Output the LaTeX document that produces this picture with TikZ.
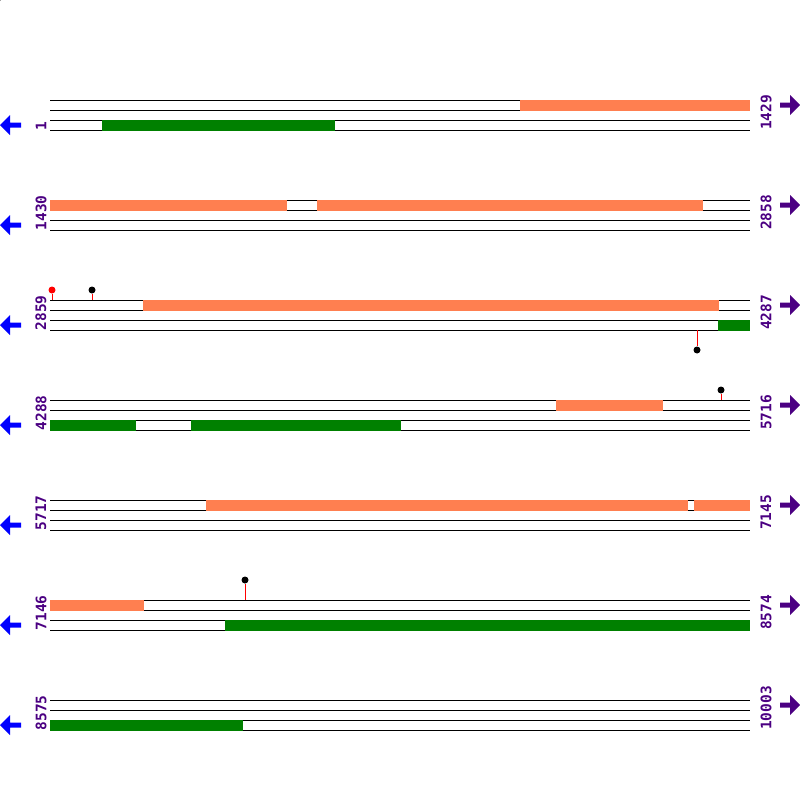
\documentclass[tikz,border=0pt]{standalone}
\usepackage{fontspec}
\setmonofont{DejaVu Sans Mono}
\definecolor{featcol}{HTML}{FF7F50}
\definecolor{genecol}{HTML}{008000}
\definecolor{numcol}{HTML}{4B0082}

\begin{document}
\begin{tikzpicture}[
    x=1pt, y=-1pt,
    strand/.style={black, line width=1pt},
    fwdbar/.style={fill=featcol},
    revbar/.style={fill=genecol},
    poslabel/.style={text=numcol, font=\ttfamily\bfseries\fontsize{14.5}{14.5}\selectfont, rotate=90, anchor=west, inner sep=0pt},
    stem/.style={red, line width=1pt},
    tipdot/.style={circle, fill=black, inner sep=0pt, minimum size=7pt}
]
\useasboundingbox (0,0) rectangle (800,800);

% Rows: strands, position labels, direction arrows
\foreach \s/\e [count=\i from 0] in {1/1429, 1430/2858, 2859/4287, 4288/5716, 5717/7145, 7146/8574, 8575/10003}{
    \pgfmathsetmacro\t{100+100*\i}
    \foreach \d in {0,10,20,30}
        \draw[strand] (50,\t+\d) -- (750,\t+\d);
    \node[poslabel] (start\i) at (41,\t+30.5) {\s};
    \node[poslabel] (end\i) at (766,\t+30) {\e};
    \fill[blue] (0,\t+25) -- (10,\t+15) -- (10,\t+22.5) -- (21,\t+22.5) -- (21,\t+27.5) -- (10,\t+27.5) -- (10,\t+35) -- cycle;
    \fill[numcol] (800,\t+5) -- (790,\t-5) -- (790,\t+2.5) -- (780,\t+2.5) -- (780,\t+7.5) -- (790,\t+7.5) -- (790,\t+15) -- cycle;
}

% Forward features
\fill[fwdbar] (520,99.5) rectangle (750,110.5);
\fill[fwdbar] (50,199.5) rectangle (287,210.5);
\fill[fwdbar] (317,199.5) rectangle (703,210.5);
\fill[fwdbar] (143,299.5) rectangle (719,310.5);
\fill[fwdbar] (556,399.5) rectangle (663,410.5);
\fill[fwdbar] (206,499.5) rectangle (688,510.5);
\fill[fwdbar] (694,499.5) rectangle (750,510.5);
\fill[fwdbar] (50,599.5) rectangle (144,610.5);

% Reverse features
\fill[revbar] (102,119.5) rectangle (335,130.5);
\fill[revbar] (718,319.5) rectangle (750,330.5);
\fill[revbar] (50,419.5) rectangle (136,430.5);
\fill[revbar] (191,419.5) rectangle (401,430.5);
\fill[revbar] (225,619.5) rectangle (750,630.5);
\fill[revbar] (50,719.5) rectangle (243,730.5);

% Sites
\coordinate (b1) at (52,300);
\coordinate (b2) at (92,300);
\coordinate (b3) at (697,330);
\coordinate (b4) at (721,400);
\coordinate (b5) at (245,600);
\node[tipdot, fill=red] (m1) at (52,290) {};
\node[tipdot] (m2) at (92,290) {};
\node[tipdot] (m3) at (697,350) {};
\node[tipdot] (m4) at (721,390) {};
\node[tipdot] (m5) at (245,580) {};
\node[tipdot] (m0) at (-2,-2) {};
\draw[stem] (b1) -- (m1);
\draw[stem] (b2) -- (m2);
\draw[stem] (b3) -- (m3);
\draw[stem] (b4) -- (m4);
\draw[stem] (b5) -- (m5);

\end{tikzpicture}
\end{document}
